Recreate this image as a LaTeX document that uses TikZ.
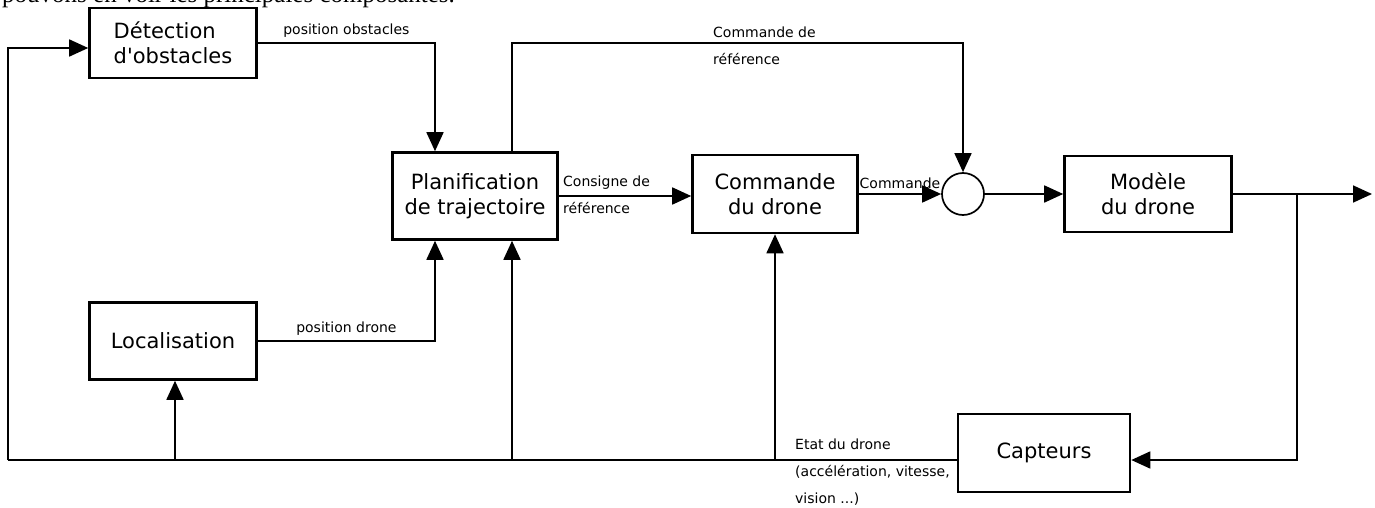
\documentclass[tikz,border=0pt]{standalone}
\usepackage{fontspec}
\setmainfont{DejaVu Sans}
\newfontfamily\texteserif{Liberation Serif}
\usetikzlibrary{arrows.meta}

\begin{document}
\begin{tikzpicture}[x=1pt,y=-1pt,
  bloc/.style={draw,line width=2.6pt,minimum width=167pt,align=center,inner sep=0pt,
    font=\fontsize{21}{25}\selectfont},
  lien/.style={line width=1.7pt},
  fl/.style={lien,-{Triangle[length=19pt,width=17pt]}},
  etq/.style={font=\fontsize{14}{27}\selectfont,align=left,inner sep=0pt}]
\useasboundingbox (0,0) rectangle (1375,508);

% bout de phrase coupe en haut
\node[anchor=base west,inner sep=0pt,font=\texteserif\fontsize{25}{25}\selectfont] (phrase) at (2,3) {pouvons en voir les principales composantes.};

% blocs
\node[bloc,minimum height=70pt,align=left] (detec) at (173,43) {Détection\\d\textquotesingle obstacles};
\node[bloc,minimum height=87pt,minimum width=165pt] (planif) at (475,196) {Planification\\de trajectoire};
\node[bloc,minimum height=78pt,minimum width=165pt] (cmd) at (775,194) {Commande\\du drone};
\node[draw,circle,line width=1.7pt,minimum size=42pt,inner sep=0pt] (somme) at (963,194) {};
\node[bloc,minimum height=76pt] (modele) at (1148,194) {Modèle\\du drone};
\node[bloc,minimum height=77pt] (loc) at (173,341) {Localisation};
\node[bloc,minimum height=78pt,minimum width=172pt] (capt) at (1044,453) {Capteurs};

\coordinate (sortie) at (1372,194);
\coordinate (bas) at (8,460);

% chaine directe
\draw[fl] (detec.east) -| ([xshift=-40pt]planif.north) node[pos=0.25,above=5pt,etq] {position obstacles};
\draw[fl] (loc.east) -| ([xshift=-40pt]planif.south) node[pos=0.25,above=5pt,etq] {position drone};
\draw[fl] ([xshift=37pt]planif.north) -- ++(0,-108) coordinate (haut) -| (somme.north);
\node[etq,anchor=west] (lref) at (713,46) {Commande de\\référence};
\draw[fl] (planif.east) -- (planif.east -| cmd.west);
\node[etq,anchor=west] (lcons) at (563,195) {Consigne de\\référence};
\draw[fl] (cmd.east) -- (somme.west) node[midway,above=4pt,etq] {Commande};
\draw[fl] (somme.east) -- (modele.west);
\draw[fl] (modele.east) -- (sortie);

% retour capteurs
\draw[fl] (1297,194) |- ([yshift=-7pt]capt.east);
\draw[lien] ([yshift=-7pt]capt.west) -- (bas);
\draw[fl] (bas) |- ([yshift=-5pt]detec.west);
\foreach \x/\cible in {175/loc,512/planif,775/cmd}
  \draw[fl] (\x,460) -- (\x,460 |- \cible.south);
\node[etq,anchor=north west] (letat) at (795,439) {Etat du drone\\(accélération, vitesse,\\vision ...)};
\end{tikzpicture}
\end{document}
